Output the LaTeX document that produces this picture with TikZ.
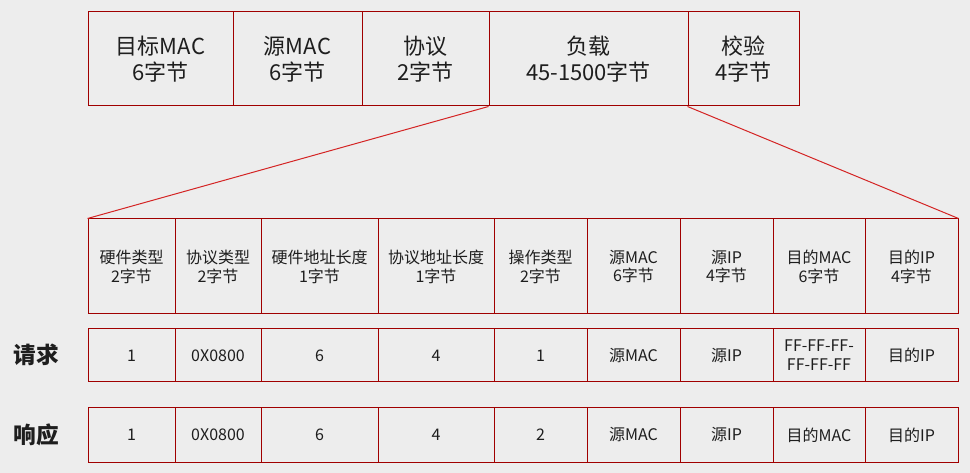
\documentclass[tikz,border=0pt]{standalone}
\usepackage{fontspec}
\setmainfont{Noto Sans CJK SC}
\definecolor{boxred}{HTML}{A00000}
\definecolor{linered}{HTML}{D42424}
\definecolor{bg}{HTML}{EDEDED}
\definecolor{txt}{HTML}{1E1E1E}
\begin{document}
\begin{tikzpicture}[x=0.75pt,y=-0.75pt,
  cell/.style={draw=boxred,line width=0.75pt,inner sep=0pt,align=center,text=txt,anchor=center},
  topcell/.style={cell,minimum height=94*0.75pt,font=\fontsize{16.5}{19.5}\selectfont},
  subcell/.style={cell,font=\fontsize{12}{14.2}\selectfont},
  conn/.style={draw=linered,line width=0.75pt},
  rowlbl/.style={font=\fontsize{17}{20}\selectfont\bfseries,text=txt}]
\fill[bg] (0,0) rectangle (970,473);
\useasboundingbox (0,0) rectangle (970,473);
% top frame
\foreach \i/\c/\w/\t in {1/160.5/145/{目标MAC\\6字节},2/297.5/129/{源MAC\\6字节},3/425.5/127/{协议\\2字节},4/588.5/199/{负载\\45-1500字节},5/743.5/111/{校验\\4字节}}
  \node[topcell,minimum width=\w*0.75pt] (t\i) at (\c,59) {\t};
% header
\foreach \i/\c/\w/\t in {1/131.5/87/{硬件类型\\2字节},2/218/86/{协议类型\\2字节},3/319.5/117/{硬件地址长度\\1字节},4/436/116/{协议地址长度\\1字节},5/540.5/93/{操作类型\\2字节},6/633.5/93/{源MAC\\6字节},7/726.5/93/{源IP\\4字节},8/819/92/{目的MAC\\6字节},9/911.5/93/{目的IP\\4字节}}
  \node[subcell,minimum width=\w*0.75pt,minimum height=95*0.75pt] (h\i) at (\c,266.5) {\t};
% request
\foreach \i/\c/\w/\t in {1/131.5/87/{1},2/218/86/{0X0800},3/319.5/117/{6},4/436/116/{4},5/540.5/93/{1},6/633.5/93/{源MAC},7/726.5/93/{源IP},8/819/92/{FF-FF-FF-\\FF-FF-FF},9/911.5/93/{目的IP}}
  \node[subcell,minimum width=\w*0.75pt,minimum height=53*0.75pt] (q\i) at (\c,355.5) {\t};
% response
\foreach \i/\c/\w/\t in {1/131.5/87/{1},2/218/86/{0X0800},3/319.5/117/{6},4/436/116/{4},5/540.5/93/{2},6/633.5/93/{源MAC},7/726.5/93/{源IP},8/819/92/{目的MAC},9/911.5/93/{目的IP}}
  \node[subcell,minimum width=\w*0.75pt,minimum height=54*0.75pt] (r\i) at (\c,435) {\t};
\node[rowlbl] (lq) at (36,355) {请求};
\node[rowlbl] (lr) at (36,435) {响应};
\draw[conn] (t4.south west) -- (h1.north west);
\draw[conn] (t5.south west) -- (h9.north east);
\end{tikzpicture}
\end{document}
